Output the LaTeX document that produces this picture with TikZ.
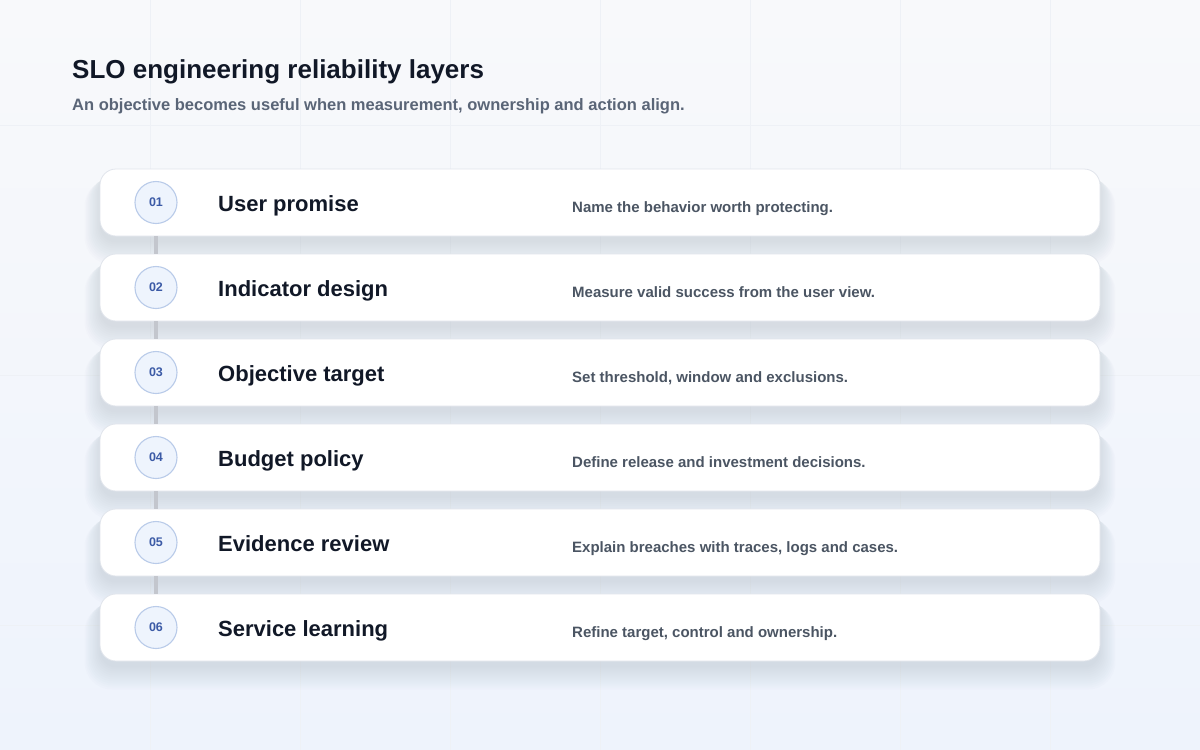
\documentclass[tikz,border=0pt]{standalone}
\usepackage{fontspec}
\setmainfont{Liberation Sans}
\usepackage{tikz}

\definecolor{bgtop}{HTML}{F8F9FB}
\definecolor{bgbot}{HTML}{EEF3FC}
\definecolor{gridline}{HTML}{EEF1F6}
\definecolor{ink}{HTML}{111827}
\definecolor{subink}{HTML}{5A6577}
\definecolor{descink}{HTML}{4B5563}
\definecolor{numink}{HTML}{3B5AA6}
\definecolor{badgefill}{HTML}{EEF4FD}
\definecolor{badgeline}{HTML}{B9CBE9}
\definecolor{cardline}{HTML}{E1E5EC}
\definecolor{linkgray}{HTML}{C3C6CD}
\definecolor{shadowcol}{HTML}{7F8CB0}

\tikzset{
  card/.style={draw=cardline, line width=0.8pt, fill=white, rounded corners=16pt,
    minimum width=1000pt, minimum height=67pt, inner sep=0pt},
  glow/.style={fill=shadowcol, opacity=0.019},
  badge/.style={circle, draw=badgeline, line width=1.1pt, fill=badgefill,
    minimum size=42pt, inner sep=0pt, text=numink,
    font=\fontsize{12.5}{12.5}\selectfont\bfseries},
  layer/.style={anchor=base west, inner sep=0pt, text=ink,
    font=\fontsize{22}{22}\selectfont\bfseries},
  note/.style={anchor=base west, inner sep=0pt, text=descink,
    font=\fontsize{15}{15}\selectfont\bfseries},
  link/.style={draw=linkgray, line width=4pt}
}

\begin{document}
\begin{tikzpicture}[x=1pt,y=-1pt]
% background
\shade[top color=bgtop, bottom color=bgbot] (0,0) rectangle (1200,750);
\useasboundingbox (0,0) rectangle (1200,750);
\foreach \gx in {150,300,...,1050}
  \draw[gridline, line width=0.7pt] (\gx,0) -- (\gx,750);
\foreach \gy in {125,375,625}
  \draw[gridline, line width=0.7pt] (0,\gy) -- (1200,\gy);

% heading
\node[anchor=base west, inner sep=0pt, text=ink, font=\fontsize{26}{26}\selectfont\bfseries]
  (title) at (72,78) {SLO engineering reliability layers};
\node[anchor=base west, inner sep=0pt, text=subink, font=\fontsize{16.5}{16.5}\selectfont\bfseries]
  (subtitle) at (72,110) {An objective becomes useful when measurement, ownership and action align.};

% soft shadows under the cards
\foreach \cy in {202.5,287.5,372.5,457.5,542.5,627.5}
  \foreach \k in {0,...,11}
    \fill[glow, rounded corners={16pt+\k pt}]
      ({100-1.4*\k},{\cy-30+0.6*\k}) rectangle ({1100+1.4*\k},{\cy+40+2*\k});

% cards
\node[card] (c1) at (600,202.5) {};
\node[card] (c2) at (600,287.5) {};
\node[card] (c3) at (600,372.5) {};
\node[card] (c4) at (600,457.5) {};
\node[card] (c5) at (600,542.5) {};
\node[card] (c6) at (600,627.5) {};

% badges
\node[badge] (n1) at (156,202.5) {01};
\node[badge] (n2) at (156,287.5) {02};
\node[badge] (n3) at (156,372.5) {03};
\node[badge] (n4) at (156,457.5) {04};
\node[badge] (n5) at (156,542.5) {05};
\node[badge] (n6) at (156,627.5) {06};

% connectors between cards
\draw[link] (c1.south -| n1) -- (c2.north -| n2);
\draw[link] (c2.south -| n2) -- (c3.north -| n3);
\draw[link] (c3.south -| n3) -- (c4.north -| n4);
\draw[link] (c4.south -| n4) -- (c5.north -| n5);
\draw[link] (c5.south -| n5) -- (c6.north -| n6);

% layer names
\node[layer] (t1) at (218,211) {User promise};
\node[layer] (t2) at (218,296) {Indicator design};
\node[layer] (t3) at (218,381) {Objective target};
\node[layer] (t4) at (218,466) {Budget policy};
\node[layer] (t5) at (218,551) {Evidence review};
\node[layer] (t6) at (218,636) {Service learning};

% descriptions
\node[note] (d1) at (572,212) {Name the behavior worth protecting.};
\node[note] (d2) at (572,297) {Measure valid success from the user view.};
\node[note] (d3) at (572,382) {Set threshold, window and exclusions.};
\node[note] (d4) at (572,467) {Define release and investment decisions.};
\node[note] (d5) at (572,552) {Explain breaches with traces, logs and cases.};
\node[note] (d6) at (572,637) {Refine target, control and ownership.};
\end{tikzpicture}
\end{document}
